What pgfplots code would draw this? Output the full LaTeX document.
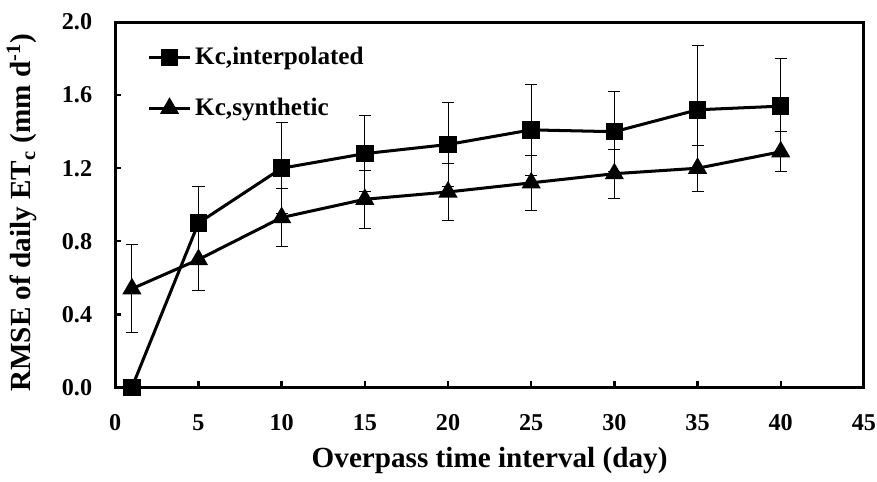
\documentclass[border=0pt]{standalone}
\usepackage{pgfplots}
\pgfplotsset{compat=1.18}
\usepackage{fontspec}
\setmainfont{Liberation Serif}
\begin{document}
\begin{tikzpicture}
\begin{axis}[
  scale only axis,
  width=372pt, height=181.5pt,
  xmin=0, xmax=45, ymin=0, ymax=2.0,
  xtick={0,5,...,45},
  ytick={0,0.4,...,2.0},
  yticklabel style={xshift=-8pt, /pgf/number format/fixed, /pgf/number format/fixed zerofill, /pgf/number format/precision=1},
  /pgf/number format/assume math mode=true,
  tick label style={font=\fontsize{12}{14}\selectfont\bfseries},
  xticklabel style={yshift=-10pt, inner xsep=0.5pt},
  tick align=inside,
  xtick pos=bottom, ytick pos=left,
  major tick length=3pt,
  tick style={line width=1.2pt,black},
  axis line style={line width=1.5pt},
  xlabel={Overpass time interval (day)},
  ylabel={RMSE of daily ET\textsubscript{c} (mm d\textsuperscript{-1})},
  label style={font=\fontsize{14.5}{17}\selectfont\bfseries},
  xlabel style={yshift=-1.5pt},
  ylabel style={yshift=5.5pt, xshift=-4pt},
  legend style={draw=none, fill=none, at={(0.035,0.954)}, anchor=north west,
    font=\fontsize{12.5}{15}\selectfont\bfseries, row sep=11pt,
    legend cell align=left},
  legend image code/.code={%
    \draw[#1, line width=1.5pt, mark repeat=2, mark phase=2]
      plot coordinates {(0pt,0pt) (10pt,0pt) (20pt,0pt)};},
]
\addplot[black, line width=1.5pt, mark=square*, mark size=3.6pt,
  error bars/.cd, y dir=both, y explicit,
  error bar style={line width=0.5pt,black},
  error mark options={rotate=90, mark size=3pt, line width=0.5pt, black}]
  coordinates {
  (1,0.00) +- (0,0)
  (5,0.90) +- (0,0.20)
  (10,1.20) +- (0,0.25)
  (15,1.28) +- (0,0.21)
  (20,1.33) +- (0,0.23)
  (25,1.41) +- (0,0.25)
  (30,1.40) +- (0,0.22)
  (35,1.52) +- (0,0.35)
  (40,1.54) +- (0,0.26)
};
\addlegendentry{Kc,interpolated}
\addplot[black, line width=1.5pt, mark=triangle*, mark size=4pt,
  error bars/.cd, y dir=both, y explicit,
  error bar style={line width=0.5pt,black},
  error mark options={rotate=90, mark size=3pt, line width=0.5pt, black}]
  coordinates {
  (1,0.54) +- (0,0.24)
  (5,0.70) +- (0,0.17)
  (10,0.93) +- (0,0.16)
  (15,1.03) +- (0,0.16)
  (20,1.07) +- (0,0.155)
  (25,1.12) +- (0,0.15)
  (30,1.17) +- (0,0.135)
  (35,1.20) +- (0,0.125)
  (40,1.29) +- (0,0.11)
};
\addlegendentry{Kc,synthetic}
\end{axis}
% keep the blank strip above the frame
\path (current axis.north) ++(0,11pt);
\end{tikzpicture}
\end{document}
